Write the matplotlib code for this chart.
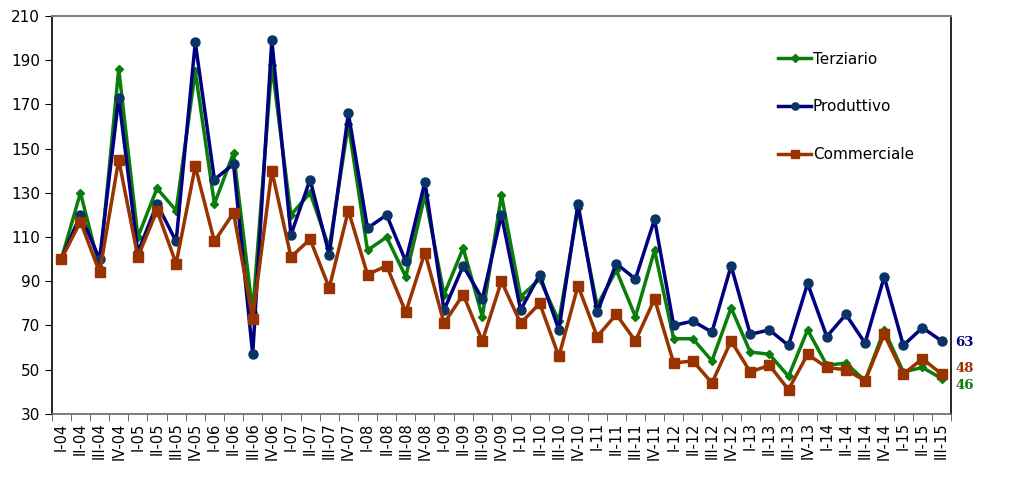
import matplotlib.pyplot as plt
from matplotlib.ticker import FixedLocator

roman = ["I", "II", "III", "IV"]
years = ["04", "05", "06", "07", "08", "09", "10", "11", "12", "13", "14", "15"]
quarters = [r + "-" + y for y in years for r in roman][:47]

terziario = [100, 130, 96, 186, 110, 132, 122, 185, 125, 148, 76, 188,
             120, 130, 105, 161, 104, 110, 92, 129, 84, 105, 74, 129,
             83, 91, 72, 123, 79, 95, 74, 104, 64, 64, 54, 78,
             58, 57, 47, 68, 52, 53, 45, 68, 49, 51, 46]
produttivo = [100, 120, 100, 173, 103, 125, 108, 198, 136, 143, 57, 199,
              111, 136, 102, 166, 114, 120, 99, 135, 77, 97, 82, 120,
              77, 93, 68, 125, 76, 98, 91, 118, 70, 72, 67, 97,
              66, 68, 61, 89, 65, 75, 62, 92, 61, 69, 63]
commerciale = [100, 117, 94, 145, 101, 122, 98, 142, 108, 121, 73, 140,
               101, 109, 87, 122, 93, 97, 76, 103, 71, 84, 63, 90,
               71, 80, 56, 88, 65, 75, 63, 82, 53, 54, 44, 63,
               49, 52, 41, 57, 51, 50, 45, 66, 48, 55, 48]

fig = plt.figure(figsize=(10.35, 4.83), dpi=100)
ax = fig.add_axes([0.050, 0.143, 0.869, 0.824])

x = list(range(len(quarters)))
ax.plot(x, terziario, color="#0a7d0a", lw=2.5, marker="D", ms=4.5,
        mfc="#0a7d0a", mec="#0a7d0a", label="Terziario")
ax.plot(x, produttivo, color="#000080", lw=2.5, marker="o", ms=6.5,
        mfc="#0a3366", mec="#0a3366", label="Produttivo")
ax.plot(x, commerciale, color="#993300", lw=2.5, marker="s", ms=6.5,
        mfc="#993300", mec="#993300", label="Commerciale")

ax.set_xlim(-0.5, len(quarters) - 0.5)
ax.set_ylim(30, 210)
ax.set_yticks(range(30, 211, 20))
ax.set_xticks(x)
ax.set_xticklabels(quarters, rotation=90, fontsize=10.5)
ax.tick_params(axis="x", which="major", length=0, pad=6)
ax.xaxis.set_minor_locator(FixedLocator([i - 0.5 for i in range(len(quarters) + 1)]))
ax.tick_params(axis="x", which="minor", length=5, direction="out", color="#555555")
ax.tick_params(axis="y", length=5, labelsize=11)

ax.spines["top"].set_color("#808080")
ax.spines["top"].set_linewidth(1.5)
ax.spines["bottom"].set_color("#666666")
ax.spines["left"].set_color("black")
ax.spines["right"].set_color("black")
for s in ax.spines.values():
    if s is not ax.spines["top"]:
        s.set_linewidth(1.2)

leg = ax.legend(loc="upper left", bbox_to_anchor=(0.792, 0.945), frameon=False,
                fontsize=11, labelspacing=2.15, handlelength=2.2,
                handletextpad=0.1, markerscale=0.8)

ax.annotate("63", xy=(1.0, produttivo[-1]), xycoords=("axes fraction", "data"),
            xytext=(3, -1), textcoords="offset points", color="#000080",
            fontsize=9.5, fontweight="bold", family="DejaVu Serif", va="center")
ax.annotate("48", xy=(1.0, commerciale[-1]), xycoords=("axes fraction", "data"),
            xytext=(3, 4), textcoords="offset points", color="#993300",
            fontsize=9.5, fontweight="bold", family="DejaVu Serif", va="center")
ax.annotate("46", xy=(1.0, terziario[-1]), xycoords=("axes fraction", "data"),
            xytext=(3, -5), textcoords="offset points", color="#0a7d0a",
            fontsize=9.5, fontweight="bold", family="DejaVu Serif", va="center")

fig.savefig("out.png", dpi=100)
